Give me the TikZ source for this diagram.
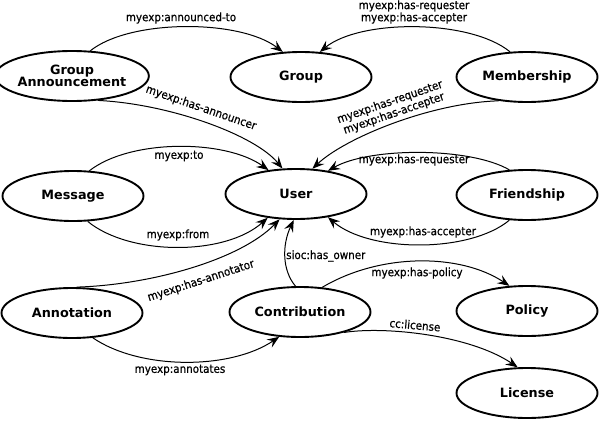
\documentclass[tikz,border=0pt]{standalone}
\usepackage{fontspec}
\setmainfont{DejaVu Sans}
\newfontfamily\edgefont{DejaVu Sans}[FakeStretch=0.9,FakeBold=0.6]
\usetikzlibrary{arrows.meta,shapes.geometric}
\tikzset{
  ent/.style={ellipse, draw, line width=1.9pt, minimum width=141pt, minimum height=50pt,
    inner sep=0pt, align=center, font=\fontsize{12.8}{14}\selectfont\bfseries},
  rel/.style={line width=1pt, -{Stealth[length=12pt,width=9.5pt,inset=4.5pt]}},
  lbl/.style={font=\edgefont\fontsize{11.5}{11}\selectfont, inner sep=0pt, align=center}
}
\begin{document}
\begin{tikzpicture}[x=1pt,y=-1pt]
\useasboundingbox (0,0) rectangle (600,421);
% entities
\node[ent] (ga)  at (72,76)   {Group\\[-2pt]Announcement};
\node[ent] (grp) at (301,77)  {Group};
\node[ent] (mem) at (527,77)  {Membership};
\node[ent] (msg) at (73,196)  {Message};
\node[ent] (usr) at (296,194) {User};
\node[ent] (fri) at (527,195) {Friendship};
\node[ent] (ann) at (72,313)  {Annotation};
\node[ent] (con) at (300,312) {Contribution};
\node[ent] (pol) at (527,311) {Policy};
\node[ent] (lic) at (527,393) {License};
% relations
\draw[rel] (ga.54) .. controls (130,19) and (240,19) .. (grp.126);
\node[lbl] (l1) at (181,18) {myexp:announced-to};
\draw[rel] (mem.124) .. controls (470,19) and (360,19) .. (grp.53);
\node[lbl] (l2) at (414,12) {myexp:has-requester\\myexp:has-accepter};
\draw[rel] (ga.-43) .. controls (170,104) and (255,135) .. (usr.118);
\node[lbl, rotate=-19] (l3) at (201,108) {myexp:has-announcer};
\draw[rel] (mem.-140) .. controls (430,103) and (345,138) .. (usr.57);
\node[lbl, rotate=19] (l4) at (392,108) {myexp:has-requester\\myexp:has-accepter};
\draw[rel] (msg.57) .. controls (130,139) and (225,139) .. (usr.139);
\node[lbl] (l5) at (179,156) {myexp:to};
\draw[rel] (msg.-60) .. controls (130,256) and (225,256) .. (usr.-140);
\node[lbl] (l6) at (178,235) {myexp:from};
\draw[rel] (ann.80) .. controls (150,285) and (240,260) .. (usr.-123);
\node[lbl, rotate=18] (l7) at (201,281) {myexp:has-annotator};
\draw[rel] (con.100) .. controls (282,270) and (282,245) .. (usr.-95);
\node[lbl, anchor=west] (l8) at (286,256) {sioc:has\_owner};
\draw[rel] (fri.125) .. controls (470,147) and (370,147) .. (usr.36);
\node[lbl] (l9) at (414,160) {myexp:has-requester};
\draw[rel] (fri.-125) .. controls (470,253) and (370,253) .. (usr.-36);
\node[lbl] (l10) at (423,232) {myexp:has-accepter};
\draw[rel] (con.48) .. controls (380,253) and (460,253) .. (pol.125);
\node[lbl] (l11) at (417,273) {myexp:has-policy};
\draw[rel] (con.-25) .. controls (385,326) and (470,335) .. (lic.110);
\node[lbl, rotate=-5] (l12) at (415,325) {cc:license};
\draw[rel] (ann.-50) .. controls (140,370) and (230,370) .. (con.-130);
\node[lbl] (l13) at (180,370) {myexp:annotates};
\end{tikzpicture}
\end{document}
